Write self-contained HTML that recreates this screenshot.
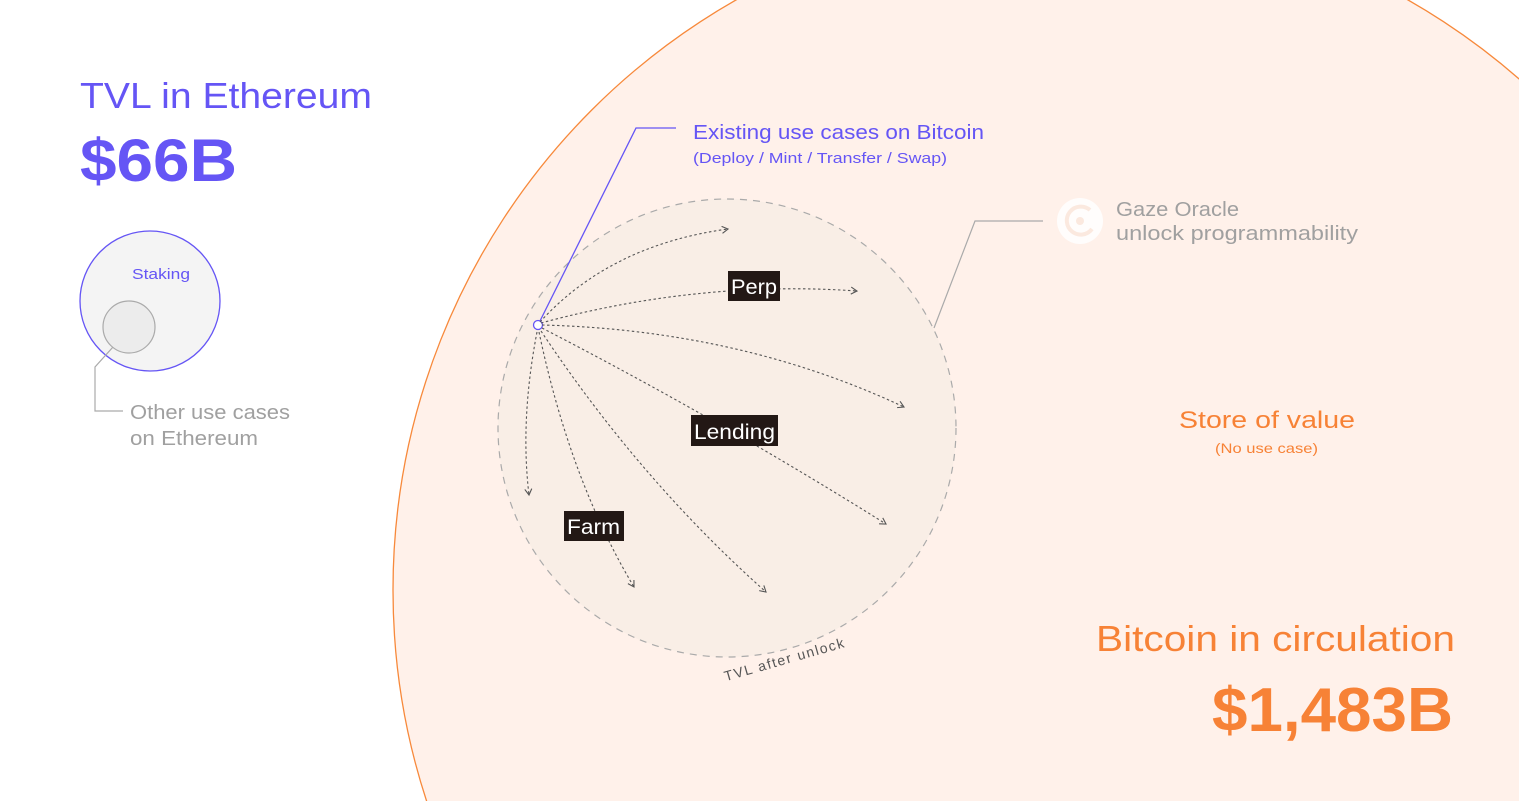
<!DOCTYPE html>
<html><head><meta charset="utf-8"><style>
html,body{margin:0;padding:0;background:#fff;width:1519px;height:801px;overflow:hidden;}
svg{display:block;font-family:"Liberation Sans",sans-serif;}
</style></head><body>
<svg width="1519" height="801" viewBox="0 0 1519 801" xmlns="http://www.w3.org/2000/svg">
<defs>
<marker id="ah" markerWidth="10" markerHeight="10" refX="7" refY="4" orient="auto" markerUnits="userSpaceOnUse">
<path d="M1,0.5 L7,4 L1,7.5" fill="none" stroke="#555" stroke-width="1.1"/>
</marker>
</defs>
<circle cx="1072" cy="590" r="679" fill="#fff1ea" stroke="#f7893b" stroke-width="1.3"/>
<circle cx="727" cy="428" r="229" fill="#f9eee6" stroke="#aaa" stroke-width="1.2" stroke-dasharray="7 6"/>

<g lengthAdjust="spacingAndGlyphs">
<text x="80" y="108" font-size="36" fill="#6555f5" textLength="292" lengthAdjust="spacingAndGlyphs">TVL in Ethereum</text>
<text x="80" y="181" font-size="60" font-weight="bold" fill="#6555f5" textLength="157" lengthAdjust="spacingAndGlyphs">$66B</text>
</g>
<circle cx="150" cy="301" r="70" fill="#f4f4f4" stroke="#6555f5" stroke-width="1.3"/>
<circle cx="129" cy="327" r="26" fill="#ececec" stroke="#aaa" stroke-width="1.2"/>
<text x="132" y="279" font-size="15" fill="#6555f5" textLength="58" lengthAdjust="spacingAndGlyphs">Staking</text>
<polyline points="113,347 95,367 95,411 123,411" fill="none" stroke="#aaa" stroke-width="1.2"/>
<text x="130" y="419" font-size="20" fill="#a0a0a0" textLength="160" lengthAdjust="spacingAndGlyphs">Other use cases</text>
<text x="130" y="445" font-size="20" fill="#a0a0a0" textLength="128" lengthAdjust="spacingAndGlyphs">on Ethereum</text>

<polyline points="538,325 636,128 676,128" fill="none" stroke="#6555f5" stroke-width="1.3"/>
<circle cx="538" cy="325" r="4.5" fill="#fff" stroke="#6555f5" stroke-width="1.3"/>
<text x="693" y="139" font-size="20" fill="#6555f5" textLength="291" lengthAdjust="spacingAndGlyphs">Existing use cases on Bitcoin</text>
<text x="693" y="163" font-size="15" fill="#6555f5" textLength="254" lengthAdjust="spacingAndGlyphs">(Deploy / Mint / Transfer / Swap)</text>

<g fill="none" stroke="#555" stroke-width="1.1" stroke-dasharray="2.5 2.5" marker-end="url(#ah)">
<path d="M540,322 Q610,245 728,229"/>
<path d="M541,323 Q700,280 857,291"/>
<path d="M542,325 Q740,330 904,407"/>
<path d="M542,328 Q720,420 886,524"/>
<path d="M541,331 Q640,480 766,592"/>
<path d="M539,332 Q570,480 634,587"/>
<path d="M537,332 Q520,420 529,495"/>
</g>
<rect x="728" y="271" width="52" height="30" fill="#231815"/>
<text x="731" y="294" font-size="21" fill="#fff" textLength="46" lengthAdjust="spacingAndGlyphs">Perp</text>
<rect x="691" y="415" width="87" height="31" fill="#231815"/>
<text x="694" y="439" font-size="21" fill="#fff" textLength="81" lengthAdjust="spacingAndGlyphs">Lending</text>
<rect x="564" y="511" width="60" height="30" fill="#231815"/>
<text x="567" y="534" font-size="21" fill="#fff" textLength="53" lengthAdjust="spacingAndGlyphs">Farm</text>
<text x="786" y="664" font-size="14" fill="#555" text-anchor="middle" letter-spacing="1.5" transform="rotate(-16 786 664)">TVL after unlock</text>

<polyline points="934,328 975,221 1043,221" fill="none" stroke="#aaa" stroke-width="1.2"/>
<circle cx="1080" cy="221" r="23" fill="#fff" opacity="0.85"/>
<path d="M1090,210 A14,14 0 1 0 1092,229" fill="none" stroke="#fbe9df" stroke-width="4"/>
<circle cx="1080" cy="221" r="4" fill="#fbe9df"/>
<text x="1116" y="216" font-size="20" fill="#a0a0a0" textLength="123" lengthAdjust="spacingAndGlyphs">Gaze Oracle</text>
<text x="1116" y="240" font-size="20" fill="#a0a0a0" textLength="242" lengthAdjust="spacingAndGlyphs">unlock programmability</text>

<text x="1179" y="428" font-size="24" fill="#f78236" textLength="176" lengthAdjust="spacingAndGlyphs">Store of value</text>
<text x="1215" y="453" font-size="14" fill="#f78236" textLength="103" lengthAdjust="spacingAndGlyphs">(No use case)</text>
<text x="1096" y="651" font-size="36" fill="#f78236" textLength="359" lengthAdjust="spacingAndGlyphs">Bitcoin in circulation</text>
<text x="1212" y="731" font-size="62" font-weight="bold" fill="#f78236" textLength="241" lengthAdjust="spacingAndGlyphs">$1,483B</text>
</svg>
</body></html>
